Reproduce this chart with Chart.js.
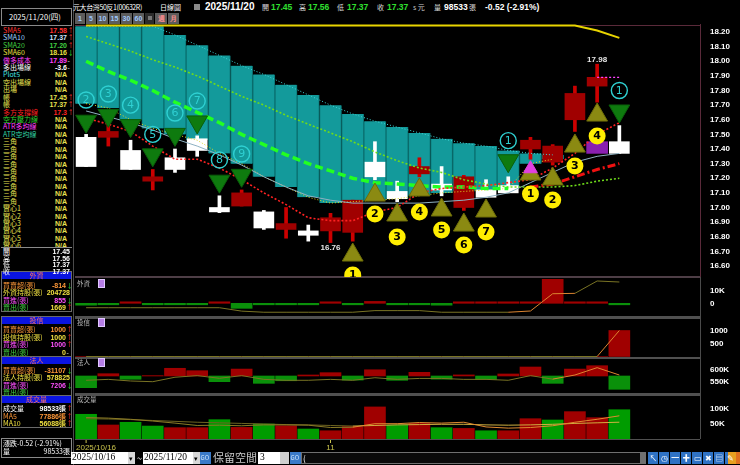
<!DOCTYPE html>
<html>
<head>
<meta charset="utf-8">
<script src="https://cdn.jsdelivr.net/npm/chart.js@4.4.1/dist/chart.umd.min.js"></script>
<style>
  html, body { margin: 0; padding: 0; background: #000; }
  body { width: 740px; height: 465px; position: relative; overflow: hidden;
         font-family: "Noto Sans CJK TC", "Noto Sans", sans-serif; color: #fff; }
  .t { position: absolute; white-space: nowrap; line-height: 1; z-index: 3; }
  .box { position: absolute; box-sizing: border-box; z-index: 1; }
  canvas { position: absolute; z-index: 2; }
</style>
</head>
<body>
<canvas id="mainChart" width="665" height="253" style="left:75px;top:24px"></canvas>
<canvas id="foreignChart" width="665" height="40" style="left:75px;top:277px"></canvas>
<canvas id="trustChart" width="665" height="39" style="left:75px;top:318px"></canvas>
<canvas id="instChart" width="665" height="35" style="left:75px;top:358px"></canvas>
<canvas id="volChart" width="665" height="58" style="left:75px;top:395px"></canvas>
<script>
// ---- 資料 ----
const dates = ['2025/10/16', '2025/10/17', '2025/10/20', '2025/10/21', '2025/10/22', '2025/10/23', '2025/10/27',
    '2025/10/28', '2025/10/29', '2025/10/30', '2025/10/31', '2025/11/03', '2025/11/04', '2025/11/05', '2025/11/06',
    '2025/11/07', '2025/11/10', '2025/11/11', '2025/11/12', '2025/11/13', '2025/11/14', '2025/11/17', '2025/11/18',
    '2025/11/19', '2025/11/20'];
const open  = [17.48, 17.48, 17.39, 17.18, 17.34, 17.47, 17.00, 17.01, 16.97, 16.85, 16.84, 16.84, 16.83, 17.31, 17.11, 17.23, 17.16, 17.00, 17.12, 17.15, 17.40, 17.31, 17.60, 17.83, 17.45];
const high  = [17.50, 17.61, 17.46, 17.26, 17.40, 17.49, 17.08, 17.12, 16.98, 17.00, 16.88, 16.96, 17.05, 17.45, 17.18, 17.34, 17.28, 17.22, 17.19, 17.21, 17.48, 17.43, 17.83, 17.98, 17.56];
const low   = [17.28, 17.42, 17.26, 17.12, 17.24, 17.35, 16.965, 17.01, 16.85, 16.79, 16.77, 16.76, 16.77, 17.19, 17.04, 17.21, 17.08, 16.98, 17.07, 17.10, 17.33, 17.29, 17.52, 17.72, 17.37];
const close = [17.28, 17.52, 17.26, 17.21, 17.26, 17.39, 16.97, 17.10, 16.86, 16.89, 16.81, 16.93, 17.05, 17.21, 17.06, 17.28, 17.12, 17.21, 17.07, 17.10, 17.46, 17.42, 17.78, 17.89, 17.37];

const sma5  = [17.61, 17.57, 17.52, 17.42, 17.33, 17.33, 17.27, 17.19, 17.10, 17.02, 16.93, 16.91, 16.91, 16.97, 17.00, 17.10, 17.13, 17.14, 17.15, 17.17, 17.19, 17.27, 17.37, 17.50, 17.58];
const sma10 = [17.66, 17.62, 17.58, 17.53, 17.47, 17.42, 17.36, 17.29, 17.21, 17.14, 17.08, 17.05, 17.03, 17.03, 17.03, 17.03, 17.04, 17.05, 17.07, 17.10, 17.17, 17.24, 17.31, 17.35, 17.37];
const sma20 = [18.17, 18.12, 18.07, 18.01, 17.96, 17.90, 17.83, 17.76, 17.70, 17.63, 17.57, 17.51, 17.45, 17.38, 17.32, 17.27, 17.24, 17.19, 17.16, 17.14, 17.14, 17.14, 17.15, 17.18, 17.20];
const sma60 = [18.245, 18.245, 18.245, 18.245, 18.245, 18.245, 18.245, 18.245, 18.245, 18.245, 18.245, 18.245, 18.245, 18.245, 18.245, 18.245, 18.245, 18.245, 18.245, 18.245, 18.245, 18.245, 18.245, 18.21, 18.16];
const shortPressure = [18.00, 17.93, 17.87, 17.80, 17.72, 17.65, 17.58, 17.50, 17.43, 17.36, 17.30, 17.25, 17.20, 17.17, 17.16, 17.15, 17.14, 17.14, 17.13, 17.13, null, null, null, null, null];
const longSupport = [null, null, null, null, null, null, null, null, null, null, null, null, null, null, null, null, null, null, null, null, 17.14, 17.16, 17.21, 17.26, 17.30];
const longCost = [null, null, null, null, null, null, null, null, null, null, null, null, null, null, null, null, null, null, null, null, null, null, null, 17.89, 17.89];
const bandTop = [18.24, 18.24, 18.24, 18.24, 18.18, 18.11, 18.04, 17.97, 17.91, 17.84, 17.77, 17.70, 17.64, 17.59, 17.55, 17.51, 17.47, 17.44, 17.42, 17.39, 17.37, 17.36, null, null, null];
const bandLow = [17.71, 17.68, 17.60, 17.54, 17.50, 17.46, 17.37, 17.30, 17.21, 17.14, 17.07, 17.03, 17.04, 17.05, 17.06, 17.08, 17.10, 17.11, 17.12, 17.13, 17.30, 17.33, null, null, null];
const purpleBox = [null, null, null, null, null, null, null, null, null, null, null, null, null, null, null, null, null, null, null, null, null, null, null, [17.37, 17.45], null];

// 賣出訊號(綠倒三角)與買進訊號(黃三角)
const sellY   = [17.59, 17.63, 17.56, 17.36, 17.50, 17.585, 17.18, 17.22, null, null, null, null, null, null, null, null, null, null, null, 17.32, null, null, null, null, 17.66];
const sellNum = ['2', '3', '4', '5', '6', '7', '8', '9', '', '', '', '', '', '', '', '', '', '', '', '1', '', '', '', '', '1'];
const sellNumY = [17.735, 17.776, 17.70, 17.50, 17.646, 17.728, 17.325, 17.366, null, null, null, null, null, null, null, null, null, null, null, 17.457, null, null, null, null, 17.80];
const buyY    = [null, null, null, null, null, null, null, null, null, null, null, null, 16.675, 17.085, 16.949, 17.12, 16.983, 16.88, 16.976, null, 17.229, 17.195, 17.42, 17.632, null];
const buyNum  = ['', '', '', '', '', '', '', '', '', '', '', '', '1', '2', '3', '4', '5', '6', '7', '', '1', '2', '3', '4', ''];
const buyNumY = [null, null, null, null, null, null, null, null, null, null, null, null, 16.538, 16.956, 16.798, 16.969, 16.846, 16.744, 16.833, null, 17.092, 17.051, 17.284, 17.489, null];
const pinkMark = [null, null, null, null, null, null, null, null, null, null, null, null, null, null, null, null, null, null, null, null, 17.265, null, null, null, null];

const priceTicks = [16.6, 16.7, 16.8, 16.9, 17.0, 17.1, 17.2, 17.3, 17.4, 17.5, 17.6, 17.7, 17.8, 17.9, 18.0, 18.1, 18.2];

// 外資、投信、法人、成交量
const foreignNet  = [-1500, -500, 600, -400, -400, -400, 600, -4000, -400, -400, -400, 500, -400, 1500, -400, -200, -1500, 500, 500, 500, 500, 19000, 500, 600, -814];
const foreignLine = [-3500, -3500, -3500, -3500, -3500, -3500, -3500, -6200, -7100, -7100, -7100, -7100, -7100, -5800, -5800, -5800, -7100, -7100, -7100, -7100, -6100, 7600, 7900, 17700, 16900];
const foreignTicks = [0, 10000];
const trustNet  = [0, 0, 0, 0, 0, 0, 0, 0, 0, 0, 0, 0, 0, 0, 0, 0, 0, 0, 0, 0, 0, 0, 0, 0, 1000];
const trustLine = [0, 0, 0, 0, 0, 0, 0, 0, 0, 0, 0, 0, 0, 0, 0, 0, 0, 0, 0, 0, 0, 0, 0, 0, 1000];
const trustTicks = [500, 1000];
const instBase = 574400;
const instBar  = [524400, 584200, 560300, 576000, 607300, 597000, 550000, 604000, 543000, 554000, 578700, 588600, 557000, 601000, 556000, 590000, 561000, 579000, 560000, 583000, 612800, 543000, 604000, 618400, 517500];
const instLine = [556000, 560000, 553000, 550000, 569000, 576000, 564500, 576000, 560000, 556000, 556000, 560000, 556000, 567000, 560000, 564000, 564000, 560000, 560000, 556000, 576000, 561000, 578600, 610000, 578600];
const instTicks = [550000, 600000];
const volume = [83000, 46600, 55800, 43000, 37500, 37500, 64700, 38500, 50000, 44000, 33000, 27000, 41000, 108000, 46600, 52000, 37500, 35000, 27000, 27000, 68000, 63600, 92000, 71500, 98533];
const volMA5  = [72000, 70000, 66000, 60000, 53000, 45000, 46000, 44000, 47000, 47000, 46000, 38000, 39000, 51000, 51000, 55000, 53000, 56000, 40000, 36000, 38000, 44000, 56000, 66000, 77886];
const volMA10 = [68000, 67000, 65000, 62000, 59000, 56000, 54000, 52000, 50000, 48000, 47000, 45000, 43000, 45000, 47000, 48000, 49000, 49000, 47000, 46000, 47000, 49000, 52000, 54000, 56088];
const volTicks = [50000, 100000];

// ---- 共用 ----
const X_MAX = 27.63;
const RED = '#a00000', GREEN = '#0a900a', OLIVE = '#7a7424', ORANGE = '#dc8430';
const xy = a => a.map((v, i) => ({x: i, y: v}));
const kFmt = v => v === 0 ? '0' : (Math.abs(v) >= 10000 ? (v / 1000) + 'K' : String(v));

function baseOptions(yMin, yMax, ticks, fmt, padding) {
    return {
        responsive: false,
        animation: false,
        events: [],
        layout: {padding: padding || 0, autoPadding: false},
        plugins: {legend: {display: false}, tooltip: {enabled: false}},
        scales: {
            x: {type: 'linear', min: -0.5, max: X_MAX, display: false, offset: false},
            y: {
                position: 'right', min: yMin, max: yMax,
                grid: {display: false}, border: {display: false},
                afterFit(s) { s.width = 40; s.paddingTop = 0; s.paddingBottom = 0; },
                afterBuildTicks(s) { s.ticks = ticks.map(v => ({value: v})); },
                ticks: {color: '#ffffff', padding: 2, autoSkip: false,
                        font: {family: 'Liberation Sans', size: 8, weight: 'bold'}, callback: fmt}
            }
        }
    };
}

// ---- 主圖 ----
const upCandle = close.map((c, i) => c > open[i]);
const markPlugin = {
    id: 'marks',
    afterDatasetsDraw(chart) {
        const {ctx, chartArea: a, scales: {x, y}} = chart;
        ctx.save();
        ctx.beginPath();
        ctx.rect(a.left, a.top, a.width, a.height);
        ctx.clip();
        ctx.textAlign = 'center';
        ctx.textBaseline = 'middle';
        sellNum.forEach((n, i) => {
            if (!n) return;
            const px = x.getPixelForValue(i), py = y.getPixelForValue(sellNumY[i]);
            ctx.beginPath();
            ctx.arc(px, py, 8, 0, Math.PI * 2);
            ctx.strokeStyle = '#2fd0d2';
            ctx.lineWidth = 1.4;
            ctx.stroke();
            ctx.fillStyle = '#2fd0d2';
            ctx.font = '11px "DejaVu Sans"';
            ctx.fillText(n, px, py + 0.5);
        });
        buyNum.forEach((n, i) => {
            if (!n) return;
            const px = x.getPixelForValue(i), py = y.getPixelForValue(buyNumY[i]);
            ctx.beginPath();
            ctx.arc(px, py, 8.5, 0, Math.PI * 2);
            ctx.fillStyle = '#ffee00';
            ctx.fill();
            ctx.fillStyle = '#000';
            ctx.font = 'bold 11px "DejaVu Sans"';
            ctx.fillText(n, px, py + 0.5);
        });
        // 區間最高、最低價
        const lo = low.indexOf(Math.min(...low)), hi = high.indexOf(Math.max(...high));
        ctx.fillStyle = '#e6e6e6';
        ctx.font = 'bold 8px "Liberation Sans"';
        ctx.textBaseline = 'top';
        ctx.fillText(low[lo].toFixed(2), x.getPixelForValue(lo), y.getPixelForValue(low[lo]) + 1.5);
        ctx.textBaseline = 'bottom';
        ctx.fillText(high[hi].toFixed(2), x.getPixelForValue(hi), y.getPixelForValue(high[hi]) - 0.5);
        ctx.restore();
    }
};

const lineDs = (data, color, width, dash, order) => ({
    type: 'line', data: xy(data), borderColor: color, borderWidth: width, borderDash: dash,
    pointRadius: 0, spanGaps: false, order: order
});
const markDs = (data, color, border, rotation, radius, order) => ({
    type: 'line', data: xy(data), showLine: false, pointStyle: 'triangle', pointRadius: radius,
    pointRotation: rotation, pointBackgroundColor: color, pointBorderColor: border, pointBorderWidth: 1, order: order
});

new Chart(document.getElementById('mainChart'), {
    type: 'bar',
    data: {
        datasets: [
            {data: xy(bandTop.map((t, i) => t == null ? null : [bandLow[i], t])), backgroundColor: '#139a9b',
             borderColor: '#0b7474', borderWidth: {left: 1, right: 1, top: 0, bottom: 0}, barThickness: 22,
             grouped: false, order: 20},
            {data: xy(purpleBox), backgroundColor: '#8a1fb0', barThickness: 21, grouped: false, order: 16},
            {data: xy(low.map((l, i) => [l, high[i]])), backgroundColor: upCandle.map(u => u ? '#cc0000' : '#ffffff'),
             barThickness: 3, grouped: false, order: 15},
            {data: xy(open.map((o, i) => [Math.min(o, close[i]), Math.max(o, close[i])])),
             backgroundColor: upCandle.map(u => u ? RED : '#ffffff'), barThickness: 20, grouped: false, order: 14},
            lineDs(bandTop, '#3fd8d8', 1, [1, 2], 11),
            lineDs(bandLow, '#e0d820', 1, [1, 2], 11),
            lineDs(sma10, '#8fb2c2', 1, [], 10),
            lineDs(sma20, '#6fdc1a', 1.6, [2, 2], 9),
            lineDs(shortPressure, '#22ff22', 3.5, [8, 4], 8),
            lineDs(sma5, '#ff2222', 1.6, [2, 2], 7),
            lineDs(longSupport, '#ee1111', 3, [8, 3, 2, 3], 6),
            lineDs(longCost, '#ff44ff', 1.4, [2, 2], 6),
            lineDs(sma60, '#e8d400', 2, [], 5),
            markDs(sellY, '#0e7a0e', '#0a5e0a', 180, 12, 3),
            markDs(buyY, '#8b8a12', '#6e6d08', 0, 12, 3),
            markDs(pinkMark, '#e040e0', '#e040e0', 0, 8, 2)
        ]
    },
    options: baseOptions(16.5248, 18.2547, priceTicks, v => v.toFixed(2)),
    plugins: [markPlugin]
});

// ---- 副圖 ----
const subLine = (data, from, order) => ({
    type: 'line', data: xy(data), borderColor: OLIVE, borderWidth: 1, pointRadius: 0, order: order,
    segment: {borderColor: c => c.p0DataIndex >= from[0] && c.p0DataIndex <= from[1] ? ORANGE : OLIVE}
});

new Chart(document.getElementById('foreignChart'), {
    type: 'bar',
    data: {datasets: [
        subLine(foreignLine, [19, 21], 0),
        {data: xy(foreignNet), backgroundColor: foreignNet.map(v => v >= 0 ? RED : GREEN), barThickness: 21,
         minBarLength: 1.5, grouped: false, order: 1}
    ]},
    options: baseOptions(-10870, 20870, foreignTicks, kFmt)
});

new Chart(document.getElementById('trustChart'), {
    type: 'bar',
    data: {datasets: [
        subLine(trustLine, [23, 24], 0),
        {data: xy(trustNet), backgroundColor: RED, barThickness: 21, grouped: false, order: 1}
    ]},
    options: baseOptions(-19, 1481, trustTicks, v => String(v))
});

new Chart(document.getElementById('instChart'), {
    type: 'bar',
    data: {datasets: [
        subLine(instLine, [21, 24], 0),
        {data: xy(instBar.map(v => [instBase, v])), backgroundColor: instBar.map(v => v >= instBase ? RED : GREEN),
         barThickness: 21, grouped: false, order: 1}
    ]},
    options: baseOptions(501700, 651300, instTicks, kFmt)
});

const dateAxisPlugin = {
    id: 'dateAxis',
    afterDraw(chart) {
        const {ctx, chartArea: a, scales: {x}} = chart;
        ctx.save();
        ctx.fillStyle = '#c8c24c';
        ctx.strokeStyle = '#c8c24c';
        ctx.font = '8px "Liberation Sans"';
        ctx.textBaseline = 'middle';
        dates.forEach((d, i) => {
            const m = d.slice(5, 7);
            if (i > 0 && m === dates[i - 1].slice(5, 7)) return;
            const px = x.getPixelForValue(i);
            ctx.beginPath();
            ctx.moveTo(px, a.bottom + 1);
            ctx.lineTo(px, a.bottom + 4);
            ctx.stroke();
            ctx.textAlign = i === 0 ? 'left' : 'center';
            ctx.fillText(i === 0 ? d : String(+m), i === 0 ? a.left + 1 : px, a.bottom + 9);
        });
        ctx.restore();
    }
};

new Chart(document.getElementById('volChart'), {
    type: 'bar',
    data: {datasets: [
        {type: 'line', data: xy(volMA5), borderWidth: 1, pointRadius: 0, order: 0, borderColor: '#8a7a26',
         segment: {borderColor: c => c.p0DataIndex >= 12 ? '#e08a30' : '#8a7a26'}},
        {type: 'line', data: xy(volMA10), borderWidth: 1, pointRadius: 0, order: 0, borderColor: '#6e6420',
         segment: {borderColor: c => c.p0DataIndex >= 12 ? '#d0b040' : '#6e6420'}},
        {data: xy(volume), backgroundColor: close.map((c, i) => i > 0 && c > close[i - 1] ? RED : '#009c00'),
         barThickness: 21, grouped: false, order: 1}
    ]},
    options: baseOptions(-1000, 148600, volTicks, kFmt, {bottom: 14}),
    plugins: [dateAxisPlugin]
});

// ---- 文字與外框 ----
function box(x, y, w, h, css) {
    const d = document.createElement('div');
    d.className = 'box';
    d.style.cssText += `left:${x}px;top:${y}px;width:${w}px;height:${h}px;` + (css || '');
    document.body.appendChild(d);
    return d;
}
function txt(x, y, s, color, size, css) {
    const d = document.createElement('div');
    d.className = 't';
    d.textContent = s;
    d.style.cssText += `left:${x}px;top:${y - size / 2}px;color:${color};font-size:${size}px;` + (css || '');
    document.body.appendChild(d);
    return d;
}
function rtxt(xr, y, s, color, size, css) {
    const d = txt(0, y, s, color, size, css);
    d.style.left = 'auto';
    d.style.right = (740 - xr) + 'px';
    return d;
}
const arrowColor = a => a === '↑' ? '#ff3030' : a === '↓' ? '#30e030' : '#ffffff';

// 圖框線
box(75, 24.5, 625, 1, 'background:#5a2a3a');
box(700, 24, 1, 253, 'background:#5a2a3a');
box(75, 276, 625, 2, 'background:#4e3e46');
box(700, 277, 1, 162, 'background:#4a4a4a');
box(75, 316, 625, 2.5, 'background:#505050');
box(75, 356.5, 625, 2, 'background:#505050');
box(75, 393, 625, 2.5, 'background:#505050');
box(75, 438.5, 625, 1, 'background:#505050');
box(72.5, 0, 1, 465, 'background:#4a4a4a');

// 副圖標題
[['外資', 283, true], ['投信', 322, true], ['法人', 362, true], ['成交量', 399, false]].forEach(([s, y, icon]) => {
    txt(77, y, s, '#b8b8b8', 6.5);
    if (icon) box(98, y - 4.5, 7, 9, 'background:#b57de6;border:1px solid #e0c8ff');
});

// 標題列
txt(73, 7, '元大台灣50反1(00632R)', '#ffffff', 7, 'letter-spacing:-0.4px');
txt(160, 7, '日線圖', '#ffffff', 7);
box(194, 4, 6, 6, 'background:#8a8a8a');
txt(205, 7, '2025/11/20', '#ffffff', 10, 'font-family:"Liberation Sans";font-weight:bold');
[['開', 262, '17.45', 271], ['高', 299, '17.56', 308], ['低', 337, '17.37', 347], ['收', 377, '17.37', 387]].forEach(([k, x1, v, x2]) => {
    txt(x1, 7, k, '#dddddd', 7);
    txt(x2, 7, v, '#30e030', 8.5, 'font-family:"Liberation Sans";font-weight:bold');
});
txt(413, 7, 's 元', '#cccccc', 7);
txt(434, 7, '量', '#dddddd', 7);
txt(444, 7, '98533', '#ffffff', 8.5, 'font-family:"Liberation Sans";font-weight:bold');
txt(469, 7, '張', '#dddddd', 7);
txt(485, 7, '-0.52 (-2.91%)', '#ffffff', 8.5, 'font-family:"Liberation Sans";font-weight:bold');

// 週期按鈕
[['1', 75, 10], ['5', 86, 10], ['10', 97, 11], ['15', 109, 11], ['30', 121, 11], ['60', 133, 11], ['', 145, 9], ['週', 155, 12], ['月', 168, 11]]
    .forEach(([s, x, w], i) => {
        box(x, 13, w, 11, 'background:' + (i === 6 ? '#2c2c2c' : '#5c5c5c'));
        if (i === 6) box(x + 2.5, 16, 4, 4, 'background:#777;z-index:2');
        txt(x + w / 2 - (s.length > 1 ? 4 : (i > 6 ? 3.5 : 2)), 18.5, s, i > 6 ? '#ff9090' : '#9cc8ff', 7,
            'font-family:"Liberation Sans";font-weight:bold');
    });

// 左側:日期框
box(1, 8, 71, 18, 'border:1px solid #8a8a8a');
txt(9, 16.5, '2025/11/20(四)', '#ffffff', 7.5);

// 左側:指標列
const Y = '#e6e050', NA = ['N/A', Y, ''];
const indRows = [
    ['SMA5', '#ff3030', '17.58', '#ff3030', '↑'],
    ['SMA10', '#9fd0ff', '17.37', '#cfe6ff', '↑'],
    ['SMA20', '#40d040', '17.20', '#40d040', '↑'],
    ['SMA60', '#e8e040', '18.16', '#e8e040', '↓'],
    ['做多成本', '#ff40ff', '17.89', '#ff40ff', '-'],
    ['多出場線', '#ffffff', '-3.6', '#ffffff', '-'],
    ['Plot5', '#40e0e0', ...NA],
    ['空出場線', Y, ...NA],
    ['出場', Y, ...NA],
    ['帳', Y, '17.45', Y, '↑'],
    ['帳', Y, '17.37', Y, '↑'],
    ['多方支撐線', '#ff2020', '17.3', '#ff2020', '↑'],
    ['空方壓力線', '#30d030', ...NA],
    ['ATR多均線', '#ff40ff', ...NA],
    ['ATR空均線', '#30d0a0', ...NA]
];
for (let k = 0; k < 9; k++) indRows.push(['三角', Y, ...NA]);
for (let k = 1; k <= 6; k++) indRows.push(['實心' + k, Y, ...NA]);
const clipWrap = box(0, 26, 72, 221, 'overflow:hidden;z-index:3');
indRows.forEach(([name, nc, val, vc, ar], i) => {
    const cy = 4.3 + i * 7.43;
    const a = txt(3, cy, name, nc, 7);
    const b = rtxt(67, cy, val, vc, 7, 'font-family:"Liberation Sans";font-weight:bold');
    clipWrap.appendChild(a);
    clipWrap.appendChild(b);
    b.style.right = '5px';
    if (ar) {
        const c = txt(67.5, cy, ar, arrowColor(ar), 6.5);
        clipWrap.appendChild(c);
    }
});
box(1, 247, 71, 1, 'background:#8a8a8a');
[['開', '17.45'], ['高', '17.56'], ['低', '17.37'], ['收', '17.37']].forEach(([k, v], i) => {
    txt(3, 251.5 + i * 6.6, k, '#ffffff', 7);
    rtxt(70, 251.5 + i * 6.6, v, '#ffffff', 7, 'font-family:"Liberation Sans";font-weight:bold');
});

// 左側:籌碼區塊
const sections = [
    ['外資', 272, [['買賣超(張)', '#ff9838', '-814', '#ff9838', '↓'], ['外資持股(張)', '#f0e040', '204728', '#f0e040', ''],
                  ['買進(張)', '#ff50ff', '855', '#ff50ff', '↓'], ['賣出(張)', '#40d040', '1669', '#f0e040', '↑']]],
    ['投信', 316.5, [['買賣超(張)', '#ff9838', '1000', '#ff9838', '↑'], ['投信持股(張)', '#f0e040', '1000', '#f0e040', '↑'],
                    ['買進(張)', '#ff50ff', '1000', '#ff50ff', '↑'], ['賣出(張)', '#40d040', '0', '#f0e040', '-']]],
    ['法人', 357, [['買賣超(張)', '#ff9838', '-31107', '#ff9838', '↓'], ['法人持股(張)', '#f0e040', '578825', '#f0e040', ''],
                  ['買進(張)', '#ff50ff', '7206', '#ff50ff', '↓'], ['賣出(張)', '#40d040', '', '#f0e040', '']]],
    ['成交量', 395.5, [['成交量', '#ffffff', '98533張', '#ffffff', '↑'], ['MA5', '#ff9838', '77886張', '#ff9838', '↑'],
                     ['MA10', '#f0e040', '56088張', '#f0e040', '↑']]]
];
sections.forEach(([title, top, rows]) => {
    box(1, top - 1, 71, rows.length * 7.5 + 11, 'border:1px solid #6a6a6a');
    box(2, top, 69, 7, 'background:#0a14e0');
    txt(36.5 - title.length * 3.5, top + 3.6, title, '#ff7060', 7);
    rows.forEach(([name, nc, val, vc, ar], i) => {
        const cy = top + 13 + i * 7.5;
        txt(3, cy, name, nc, 7);
        if (val) rtxt(ar ? 66 : 70, cy, val, vc, 7, 'font-family:"Liberation Sans";font-weight:bold');
        if (ar) txt(66.5, cy, ar, arrowColor(ar), 6.5);
    });
});
box(1, 437.5, 71, 20, 'border:1px solid #8a8a8a');
txt(3, 443.5, '漲跌-0.52 (-2.91%)', '#ffffff', 7);
txt(3, 451.5, '量', '#ffffff', 7);
rtxt(70, 451.5, '98533張', '#ffffff', 7);

// 下方工具列
const serif = 'font-family:"Liberation Serif";color:#000;';
box(71, 452, 57, 12, 'background:#fff');
txt(72, 458, '2025/10/16', '#000', 9.5, serif);
box(128, 452, 7, 12, 'background:#d8d8d8');
txt(129, 458, '▾', '#000', 7);
txt(137, 458, '~', '#ffffff', 9);
box(143, 452, 50, 12, 'background:#fff');
txt(144, 458, '2025/11/20', '#000', 9.5, serif);
box(193, 452, 7, 12, 'background:#d8d8d8');
txt(194, 458, '▾', '#000', 7);
box(200, 452, 11, 12, 'background:#3a7ac8');
txt(200.5, 458, 'GO', '#d8ecff', 6);
txt(213, 457.5, '保留空間', '#c8c8c8', 11);
box(258, 452, 22, 12, 'background:#fff');
txt(260, 458, '3', '#000', 9.5, serif);
box(280, 452, 9, 12, 'background:#cfcfcf');
box(290, 452, 11, 12, 'background:#3a7ac8');
txt(290.5, 458, 'GO', '#d8ecff', 6);
box(301, 452, 345, 12, 'background:#0a0a0a;border:1px solid #707070');
txt(303, 458, '(', '#ffffff', 8);
box(640, 453, 6, 10, 'background:#707070');
['↖', '◷', '━', '✚', '▭', '✖', '▤', '✎'].forEach((s, i) => {
    box(648 + i * 11, 452, 10, 12, 'background:#2f72c4');
    txt(649.5 + i * 11, 458, s, '#ffffff', 7.5);
});
box(736, 452, 4, 12, 'background:#e07020');
box(728, 452, 8, 12, 'background:#e8a020');
</script>
</body>
</html>
